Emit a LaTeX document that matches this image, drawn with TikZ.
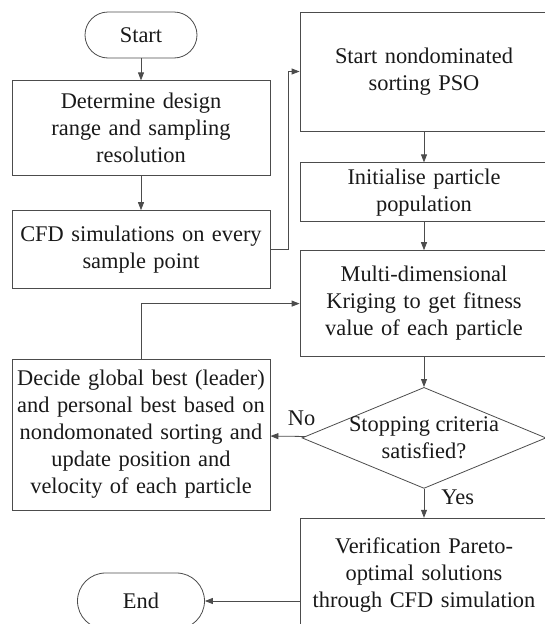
\documentclass[tikz,border=0pt]{standalone}
\usepackage{fontspec}
\setmainfont{Liberation Serif}
\usetikzlibrary{arrows.meta, positioning, shapes.geometric}

\begin{document}
\begin{tikzpicture}[
    x=1pt, y=-1pt,
    font=\fontsize{22.4}{27}\selectfont,
    text=black!90,
    proc/.style={rectangle, draw=black!70, line width=0.8pt, align=center,
      text width=258pt, inner xsep=0pt, inner ysep=0pt},
    wide/.style={proc, text width=248pt},
    term/.style={rectangle, draw=black!70, line width=0.8pt, inner sep=0pt},
    dec/.style={diamond, draw=black!70, line width=0.8pt, inner sep=0pt,
      minimum width=244pt, minimum height=101pt},
    tag/.style={inner sep=2pt},
    flow/.style={-{Triangle[length=8pt,width=6pt]}, line width=0.8pt, draw=black!70}
  ]
  \useasboundingbox (0,0) rectangle (545,624);
  \clip (0,0) rectangle (545,624);

  % left column
  \node[term, minimum width=112pt, minimum height=46pt, rounded corners=23pt] (start) at (141,35) {Start};
  \node[proc, minimum height=95pt, below=22pt of start] (design) {Determine design\\range and sampling\\resolution};
  \node[proc, minimum height=78pt, below=34pt of design] (cfd) {CFD simulations on every\\sample point};
  \node[proc, minimum height=151pt] (update) at (141,434.5) {Decide global best (leader)\\and personal best based on\\nondomonated sorting and\\update position and\\velocity of each particle};
  \node[term, minimum width=127pt, minimum height=56pt, rounded corners=28pt] (end) at (141,601) {End};

  % right column
  \node[wide, minimum height=119pt] (pso) at (424,71.5) {Start nondominated\\sorting PSO};
  \node[wide, minimum height=59pt, below=31pt of pso] (init) {Initialise particle\\population};
  \node[wide, minimum height=106pt, below=28pt of init] (krig) {Multi-dimensional\\Kriging to get fitness\\value of each particle};
  \node[dec, below=30pt of krig, label={[align=center]center:Stopping criteria\\satisfied?}] (stop) {};
  \node[wide, minimum height=114pt, below=29pt of stop] (verify) {Verification Pareto-\\optimal solutions\\through CFD simulation};

  \draw[flow] (start) -- (design);
  \draw[flow] (design) -- (cfd);
  \draw[flow] (cfd.east) -- ++(18,0) |- (pso.west);
  \draw[flow] (pso) -- (init);
  \draw[flow] (init) -- (krig);
  \draw[flow] (krig) -- (stop);
  \draw[flow] (stop) -- node[tag, right=15pt, pos=0.3]{Yes} (verify);
  \draw[flow] (stop) -- node[tag, above=8pt, pos=0.1]{No} (update);
  \draw[flow] (update.north) |- (krig.west);
  \draw[flow] (end.east -| verify.west) -- (end.east);
\end{tikzpicture}
\end{document}
